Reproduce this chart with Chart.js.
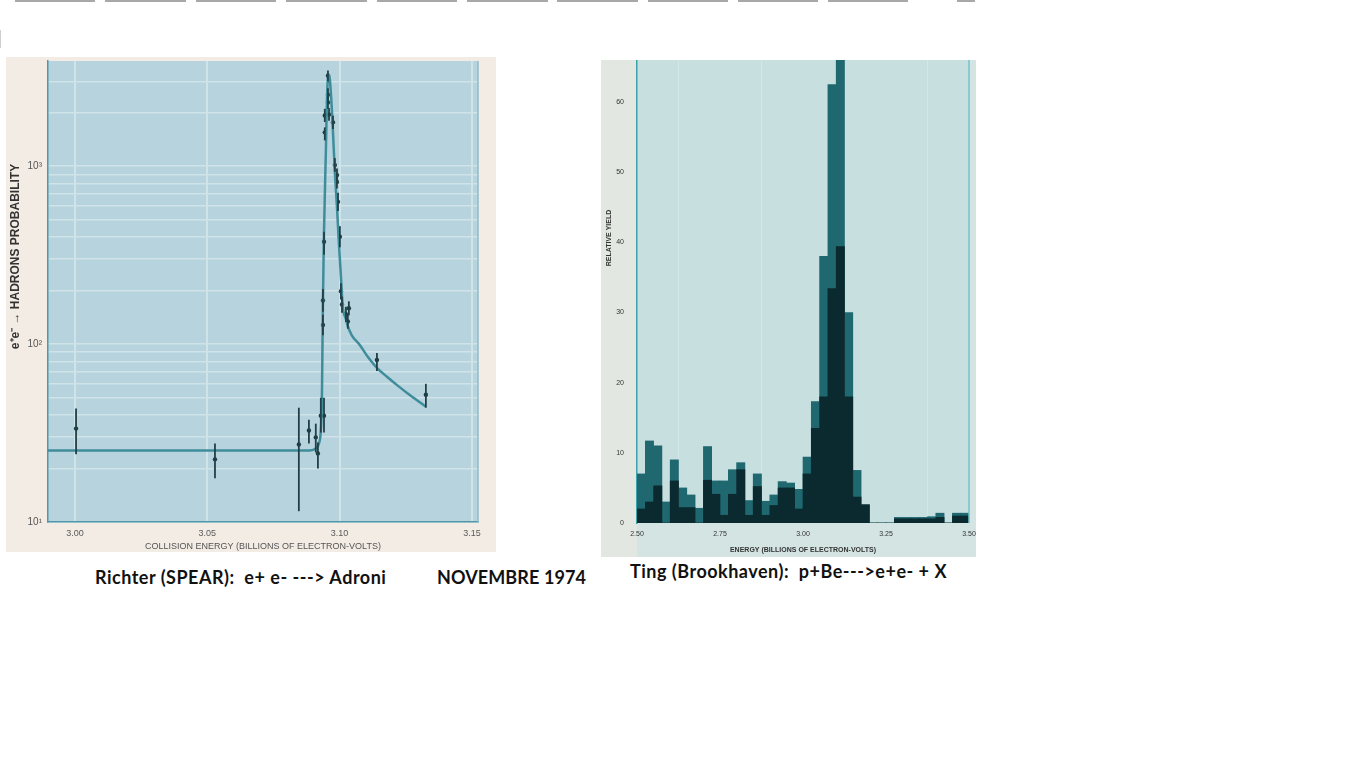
<!DOCTYPE html>
<html>
<head>
<meta charset="utf-8">
<title>Novembre 1974</title>
<script src="https://cdn.jsdelivr.net/npm/chart.js@4.4.0/dist/chart.umd.min.js"></script>
<style>
body { margin: 0; background: #fff; width: 1366px; height: 768px; position: relative; overflow: hidden; }
.seg { position: absolute; top: 0; height: 2px; background: #a8a8a8; }
#leftBox { position: absolute; left: 6px; top: 57px; width: 490px; height: 495px; background: #f3ece4; }
#rightBox { position: absolute; left: 601px; top: 60px; width: 375px; height: 497px; overflow: hidden; background: #d3e4e2; }
.cap { position: absolute; font-family: Lato, 'Open Sans', sans-serif; font-weight: 700; font-size: 18px; line-height: 18px; letter-spacing: 0.5px; color: #111; white-space: pre; }
</style>
</head>
<body>
<div class="seg" style="left:15px;width:80px"></div>
<div class="seg" style="left:105px;width:81px"></div>
<div class="seg" style="left:196px;width:80px"></div>
<div class="seg" style="left:286px;width:81px"></div>
<div class="seg" style="left:377px;width:80px"></div>
<div class="seg" style="left:467px;width:81px"></div>
<div class="seg" style="left:557px;width:81px"></div>
<div class="seg" style="left:648px;width:80px"></div>
<div class="seg" style="left:738px;width:80px"></div>
<div class="seg" style="left:828px;width:80px"></div>
<div class="seg" style="left:957px;width:18px"></div>
<div class="seg" style="left:0;top:30px;width:1px;height:18px;background:#cfcfcf"></div>

<div id="leftBox"><canvas id="richter" width="490" height="495"></canvas></div>
<div id="rightBox"><canvas id="ting" width="385" height="497"></canvas></div>

<div class="cap" style="left:95px;top:568px">Richter (SPEAR):  e+ e- ---&gt; Adroni</div>
<div class="cap" style="left:437px;top:568px;letter-spacing:0.1px">NOVEMBRE 1974</div>
<div class="cap" style="left:630px;top:562px">Ting (Brookhaven):  p+Be---&gt;e+e- + X</div>

<script>
// ========== Richter (SPEAR): e+ e- -> adroni ==========
const richterTicksX = [3.00, 3.05, 3.10, 3.15];
const richterGridY = [10, 20, 30, 40, 50, 60, 70, 80, 90, 100, 200, 300, 400, 500, 600, 700, 800, 900, 1000, 2000, 3000];
const richterDecades = [10, 100, 1000];
const richterDecadeLabels = ['10¹', '10²', '10³'];

// curva teorica
const curveE = [2.9898, 3.0888, 3.0910, 3.0922, 3.0929, 3.0933, 3.0937, 3.0941, 3.0948, 3.0952, 3.0956, 3.0960, 3.0967,
    3.0975, 3.0982, 3.0990, 3.0997, 3.1005, 3.1012, 3.1024, 3.1031, 3.1046, 3.1077, 3.1107, 3.1141, 3.1179,
    3.1216, 3.1269, 3.1326];
const curveV = [25.2, 25.2, 25.9, 27.6, 32.7, 48.1, 174, 428, 1197, 2280, 3140, 3266, 2588,
    1549, 925, 590, 376, 240, 163, 138, 126, 112, 98.6, 84.5, 73.5, 65.5,
    59.0, 51.2, 44.5];

// punti misurati con barre d'errore
const pointE = [3.0004, 3.0529, 3.0846, 3.0884, 3.0910, 3.0918, 3.0929, 3.0941, 3.0937, 3.0937, 3.0941, 3.0944, 3.0944, 3.0956, 3.0956,
    3.0956, 3.0960, 3.0975, 3.0982, 3.0990, 3.0990, 3.0994, 3.1001, 3.1005, 3.1009, 3.1024, 3.1031, 3.1035, 3.1141, 3.1326];
const pointV = [33.5, 22.5, 27.3, 32.7, 29.9, 24.3, 39.6, 39.6, 128, 176, 376, 1549, 1928, 2523, 2280,
    3222, 1954, 1763, 1014, 891, 814, 630, 401, 198, 167, 147, 134, 159, 81.5, 51.9];
const pointLo = [24, 17.6, 11.5, 27.6, 24.6, 20, 31.8, 31.8, 112, 152, 318, 1396, 1770, 2320, 2100,
    3000, 1800, 1620, 930, 820, 750, 560, 350, 178, 150, 133, 122, 145, 70.6, 43.9];
const pointHi = [43.4, 27.6, 43.9, 37.6, 35.7, 28, 49.9, 49.9, 146, 204, 428, 1652, 2100, 2740, 2480,
    3450, 2120, 1920, 1110, 970, 890, 710, 460, 220, 185, 162, 147, 174, 89.1, 59.8];

// ========== Ting (Brookhaven): p+Be -> e+e- + X ==========
const tingTicksX = [2.50, 2.75, 3.00, 3.25, 3.50];
const tingTicksY = [0, 10, 20, 30, 40, 50, 60];
const binCenters = [2.5125, 2.5375, 2.5625, 2.5875, 2.6125, 2.6375, 2.6625, 2.6875, 2.7125, 2.7375,
    2.7625, 2.7875, 2.8125, 2.8375, 2.8625, 2.8875, 2.9125, 2.9375, 2.9625, 2.9875,
    3.0125, 3.0375, 3.0625, 3.0875, 3.1125, 3.1375, 3.1625, 3.1875, 3.2125, 3.2375,
    3.2625, 3.2875, 3.3125, 3.3375, 3.3625, 3.3875, 3.4125, 3.4375, 3.4625, 3.4875];
const totalYield = [7, 11.7, 11, 3, 9, 5, 4, 2.1, 10.9, 6,
    6, 7.6, 8.6, 3.2, 7, 3.1, 4, 5.9, 5.7, 4.8,
    9.4, 17.3, 38, 62.5, 70, 30, 7.5, 2.6, 0, 0,
    0, 0.8, 0.8, 0.8, 0.8, 0.9, 1.4, 0, 1.4, 1.4];
const darkYield = [2, 3, 5.3, 0, 6, 2.2, 2.2, 0, 6.1, 4.1,
    1.1, 4.1, 7.6, 1.1, 5.2, 1.1, 2.5, 5, 5, 2,
    7, 13.5, 18, 33.4, 39.4, 18, 3.7, 2.6, 0, 0,
    0, 0.6, 0.6, 0.6, 0.6, 0.6, 0.8, 0, 1, 1];

Chart.defaults.font.family = "'Liberation Sans', Arial, sans-serif";

// ========== sfondo carta ==========
const paperPlugin = {
    id: 'paper',
    beforeDraw(chart, args, opts) {
        const { ctx, chartArea: a } = chart;
        ctx.save();
        if (opts.margin) {
            ctx.fillStyle = opts.margin;
            ctx.fillRect(0, 0, a.left, chart.height);
        }
        ctx.fillStyle = opts.area;
        ctx.fillRect(a.left, a.top, a.right - a.left, a.bottom - a.top);
        ctx.restore();
    },
    afterDraw(chart, args, opts) {
        const { ctx, chartArea: a } = chart;
        ctx.save();
        ctx.strokeStyle = opts.edge;
        ctx.lineWidth = 1.5;
        ctx.beginPath();
        ctx.moveTo(a.right, a.top);
        ctx.lineTo(a.right, a.bottom);
        ctx.stroke();
        ctx.restore();
    }
};

// ========== barre d'errore ==========
const errorBarPlugin = {
    id: 'errorBars',
    afterDatasetsDraw(chart) {
        const { ctx, scales: { x, y } } = chart;
        ctx.save();
        ctx.strokeStyle = '#213f46';
        ctx.lineWidth = 1.8;
        pointE.forEach((e, i) => {
            const px = x.getPixelForValue(e);
            ctx.beginPath();
            ctx.moveTo(px, y.getPixelForValue(pointLo[i]));
            ctx.lineTo(px, y.getPixelForValue(pointHi[i]));
            ctx.stroke();
        });
        ctx.restore();
    }
};

const richterChart = new Chart(document.getElementById('richter'), {
    type: 'scatter',
    data: {
        datasets: [{
            label: 'curva',
            data: curveE.map((e, i) => ({ x: e, y: curveV[i] })),
            showLine: true,
            borderColor: '#3f8c9a',
            borderWidth: 2.5,
            pointRadius: 0,
            cubicInterpolationMode: 'monotone'
        }, {
            label: 'dati',
            data: pointE.map((e, i) => ({ x: e, y: pointV[i] })),
            pointRadius: 2.2,
            pointBackgroundColor: '#1d3c44',
            pointBorderWidth: 0
        }]
    },
    options: {
        responsive: false,
        animation: false,
        layout: { padding: { top: 1, right: 18, left: 0, bottom: 0 } },
        plugins: {
            legend: { display: false },
            tooltip: { enabled: false },
            paper: { area: '#b7d4de', edge: '#8fbccb' }
        },
        scales: {
            x: {
                type: 'linear',
                min: 2.9898,
                max: 3.1523,
                afterBuildTicks: s => { s.ticks = richterTicksX.map(v => ({ value: v })); },
                afterFit: s => { s.height = 30; s.paddingLeft = 0; s.paddingRight = 0; },
                ticks: { color: '#5a5a5a', font: { size: 9 }, padding: 6, maxRotation: 0, callback: v => v.toFixed(2) },
                grid: { color: '#cfe3e8', lineWidth: 2, drawTicks: false },
                border: { color: '#4f98aa', width: 1.5 },
                title: {
                    display: true,
                    text: 'COLLISION ENERGY (BILLIONS OF ELECTRON-VOLTS)',
                    color: '#555',
                    font: { size: 9 },
                    padding: { top: 0, bottom: 0 }
                }
            },
            y: {
                type: 'logarithmic',
                min: 10,
                max: 3900,
                afterBuildTicks: s => { s.ticks = richterGridY.map(v => ({ value: v })); },
                afterFit: s => { s.width = 42; s.paddingTop = 0; s.paddingBottom = 0; },
                ticks: {
                    autoSkip: false,
                    color: '#555',
                    font: { size: 10 },
                    padding: 6,
                    callback: v => {
                        const k = richterDecades.indexOf(v);
                        return k >= 0 ? richterDecadeLabels[k] : '';
                    }
                },
                grid: { color: '#cfe3e8', lineWidth: 1.5, drawTicks: false },
                border: { color: '#4f98aa', width: 1.5 },
                title: {
                    display: true,
                    text: ' '.repeat(21) + 'e⁺e⁻ → HADRONS PROBABILITY',
                    color: '#333',
                    font: { size: 12, weight: 'bold' },
                    padding: { top: 2, bottom: 0 }
                }
            }
        }
    },
    plugins: [paperPlugin, errorBarPlugin]
});

const tingChart = new Chart(document.getElementById('ting'), {
    type: 'bar',
    data: {
        datasets: [{
            label: 'e+e- (sottoinsieme)',
            data: binCenters.map((x, i) => ({ x, y: darkYield[i] })),
            backgroundColor: '#0b2a30',
            grouped: false,
            barPercentage: 1,
            categoryPercentage: 1
        }, {
            label: 'e+e-',
            data: binCenters.map((x, i) => ({ x, y: totalYield[i] })),
            backgroundColor: '#1f6870',
            grouped: false,
            barPercentage: 1,
            categoryPercentage: 1
        }]
    },
    options: {
        responsive: false,
        animation: false,
        layout: { padding: { top: 0, right: 17, left: 0, bottom: 0 } },
        plugins: {
            legend: { display: false },
            tooltip: { enabled: false },
            paper: { area: '#c8dfe0', margin: '#e2e8e1', edge: '#6fc4cc' }
        },
        scales: {
            x: {
                type: 'linear',
                min: 2.5,
                max: 3.5,
                offset: false,
                afterBuildTicks: s => { s.ticks = tingTicksX.map(v => ({ value: v })); },
                afterFit: s => { s.height = 34; s.paddingLeft = 0; s.paddingRight = 0; },
                ticks: { color: '#333', font: { size: 7 }, padding: 7, maxRotation: 0, callback: v => v.toFixed(2) },
                grid: { color: 'rgba(235,245,245,0.35)', lineWidth: 1, drawTicks: false },
                border: { display: false },
                title: {
                    display: true,
                    text: 'ENERGY (BILLIONS OF ELECTRON-VOLTS)',
                    color: '#333',
                    font: { size: 7, weight: 'bold' },
                    padding: { top: 0, bottom: 3 }
                }
            },
            y: {
                min: 0,
                max: 66,
                afterBuildTicks: s => { s.ticks = tingTicksY.map(v => ({ value: v })); },
                afterFit: s => { s.width = 36; s.paddingTop = 0; s.paddingBottom = 0; },
                ticks: { color: '#333', font: { size: 7 }, padding: 5 },
                grid: { display: false },
                border: { color: '#3aa2aa', width: 1.5 },
                title: {
                    display: true,
                    text: ' '.repeat(55) + 'RELATIVE YIELD',
                    color: '#333',
                    font: { size: 7, weight: 'bold' },
                    padding: { top: 4, bottom: 0 }
                }
            }
        }
    },
    plugins: [paperPlugin]
});
</script>
</body>
</html>
